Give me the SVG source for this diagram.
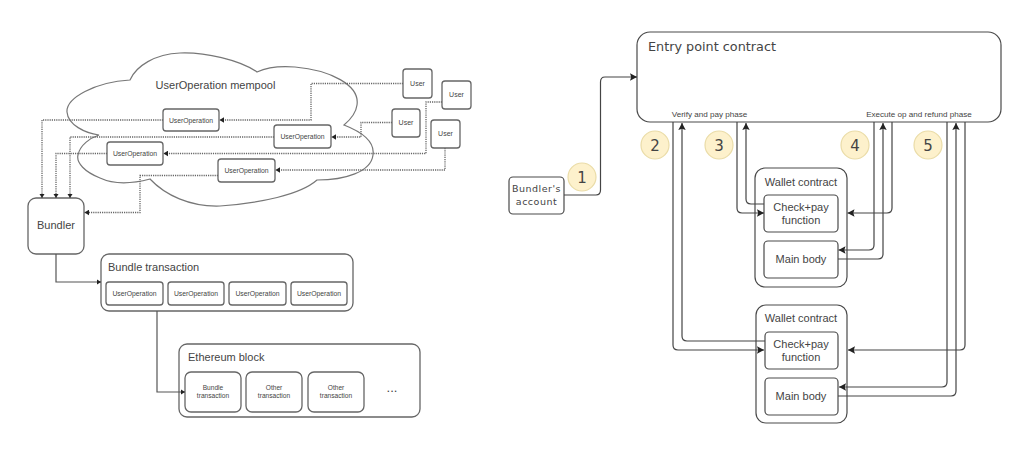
<svg xmlns="http://www.w3.org/2000/svg" width="1024" height="454" viewBox="0 0 1024 454">
<style>
text{font-family:"Liberation Sans",Arial,sans-serif;fill:#444;text-anchor:middle}
.box{fill:#fff;stroke:#666;stroke-width:1.3}
.dark{fill:#fff;stroke:#4a4a4a;stroke-width:1.2}
.frame{fill:none;stroke:#4a4a4a;stroke-width:1.2}
.cloud{fill:#fff;stroke:#777;stroke-width:1.2}
.dot{fill:none;stroke:#666;stroke-width:1.3;stroke-dasharray:1.2 1;marker-end:url(#sm)}
.line{fill:none;stroke:#555;stroke-width:1.2;marker-end:url(#sm)}
.arrow{fill:none;stroke:#444;stroke-width:1.2;marker-end:url(#lg)}
.badge{fill:#fdf1cc;stroke:#eadca8;stroke-width:1.2}
.uo{font-size:6.8px}
.tx{font-size:6.6px}
.usr{font-size:7px}
.h{font-size:11px;text-anchor:start}
.w{font-size:11px}
.ph{font-size:8.1px}
.dj{font-family:"DejaVu Sans",sans-serif}
.num{font-family:"DejaVu Sans",sans-serif;font-size:15px}
</style>
<defs>
<marker id="sm" markerUnits="userSpaceOnUse" markerWidth="5" markerHeight="6" refX="4.500" refY="3" orient="auto"><path d="M0 0.200L4.500 3L0 5.800Z" fill="#222"/></marker>
<marker id="lg" markerUnits="userSpaceOnUse" markerWidth="8" markerHeight="8" refX="7" refY="4" orient="auto"><path d="M0 0.300L7 4L0 7.700L1.200 4Z" fill="#222"/></marker>
</defs>

<g id="cloud"><path class="cloud" d="M130 80C136 66 155 54 180 53C205 52 240 60 257 72C270 66 283 66 295 67C330 70 360 85 357 105C356 113 350 120 344 125C362 132 375 142 373 155C371 172 345 180 317 180C300 195 260 203 220 206C190 207 165 195 150 179C135 183 115 185 100 178C85 172 76 163 78 155C80 145 90 138 99 135C85 133 68 125 67 112C66 98 95 82 130 80Z"/><text x="215.500" y="89" style="font-size:11px">UserOperation mempool</text></g>

<g id="op1"><rect class="box" x="163" y="109" width="56" height="22" rx="3"/><text class="uo" x="191" y="122.500">UserOperation</text></g>
<g id="op2"><rect class="box" x="107" y="142" width="56" height="23" rx="3"/><text class="uo" x="135" y="155.500">UserOperation</text></g>
<g id="op3"><rect class="box" x="218" y="159" width="57" height="23" rx="3"/><text class="uo" x="246.500" y="172.500">UserOperation</text></g>
<g id="op4"><rect class="box" x="274" y="125" width="57" height="23" rx="3"/><text class="uo" x="302.500" y="138.500">UserOperation</text></g>

<g id="user1"><rect class="box" x="403" y="69" width="29" height="29" rx="3"/><text class="usr" x="417.500" y="85.500">User</text></g>
<g id="user2"><rect class="box" x="442" y="81" width="29" height="28" rx="3"/><text class="usr" x="456.500" y="96.500">User</text></g>
<g id="user3"><rect class="box" x="392" y="109" width="28" height="28" rx="3"/><text class="usr" x="406" y="124.500">User</text></g>
<g id="user4"><rect class="box" x="431" y="120" width="29" height="28" rx="3"/><text class="usr" x="445.500" y="135.500">User</text></g>

<g id="bundler"><rect class="box" x="28" y="198" width="56" height="56" rx="8"/><text x="56" y="229" style="font-size:11px">Bundler</text></g>

<g id="bundle-tx"><rect class="box" x="101" y="254" width="252" height="57" rx="8"/><text class="h" x="108" y="271">Bundle transaction</text>
<rect class="box" x="106" y="282" width="57" height="23" rx="3"/><text class="uo" x="134.500" y="295.500">UserOperation</text>
<rect class="box" x="168" y="282" width="56" height="23" rx="3"/><text class="uo" x="196" y="295.500">UserOperation</text>
<rect class="box" x="229" y="282" width="57" height="23" rx="3"/><text class="uo" x="257.500" y="295.500">UserOperation</text>
<rect class="box" x="291" y="282" width="56" height="23" rx="3"/><text class="uo" x="319" y="295.500">UserOperation</text></g>

<g id="eth-block"><rect class="box" x="179" y="344" width="241" height="73" rx="8"/><text class="h" x="188" y="361">Ethereum block</text>
<rect class="box" x="185" y="372" width="56" height="40" rx="6"/><text class="tx" x="213" y="389.500">Bundle</text><text class="tx" x="213" y="397.500">transaction</text>
<rect class="box" x="246" y="372" width="56" height="40" rx="6"/><text class="tx" x="274" y="389.500">Other</text><text class="tx" x="274" y="397.500">transaction</text>
<rect class="box" x="308" y="372" width="56" height="40" rx="6"/><text class="tx" x="336" y="389.500">Other</text><text class="tx" x="336" y="397.500">transaction</text>
<text x="392" y="392" style="font-size:13px">...</text></g>

<g id="entry"><rect class="dark" x="637" y="32" width="364" height="90" rx="13"/><text class="dj" x="648" y="51" style="font-size:12.800px;text-anchor:start">Entry point contract</text><text class="ph" x="709.500" y="117">Verify and pay phase</text><text class="ph" x="919" y="117">Execute op and refund phase</text></g>

<g id="bundler-account"><rect class="dark" x="509" y="177" width="55" height="37" rx="4"/><text class="dj" x="536.500" y="192" style="font-size:9.500px;letter-spacing:.5px">Bundler's</text><text class="dj" x="536.500" y="205" style="font-size:9.500px;letter-spacing:.5px">account</text></g>

<g id="wallet1"><rect class="frame" x="755" y="168" width="92" height="119" rx="10"/><text class="w" x="801" y="186">Wallet contract</text>
<rect class="dark" x="764" y="195" width="74" height="37" rx="4"/><text class="w" x="801" y="211">Check+pay</text><text class="w" x="801" y="224">function</text>
<rect class="dark" x="764" y="241" width="74" height="37" rx="4"/><text class="w" x="801" y="263">Main body</text></g>

<g id="wallet2"><rect class="frame" x="756" y="305" width="91" height="118" rx="10"/><text class="w" x="801" y="322">Wallet contract</text>
<rect class="dark" x="765" y="332" width="73" height="37" rx="4"/><text class="w" x="801" y="348">Check+pay</text><text class="w" x="801" y="361">function</text>
<rect class="dark" x="765" y="378" width="73" height="37" rx="4"/><text class="w" x="801" y="400">Main body</text></g>

<g id="connectors">
<path class="dot" d="M403 83.500H311V120H219.500"/>
<path class="dot" d="M163 120H42V198"/>
<path class="dot" d="M392 122.500H361V137H331.500"/>
<path class="dot" d="M274 137H70V198"/>
<path class="dot" d="M442 102H426V153.500H163.500"/>
<path class="dot" d="M107 153.500H56V198"/>
<path class="dot" d="M445 148V170H275.500"/>
<path class="dot" d="M218 175.500H140V212.500H84.500"/>
<path class="line" d="M56 254V282H101"/>
<path class="line" d="M157 311V392H185"/>
<path class="arrow" d="M564 195H596Q600.500 195 600.500 190V82Q600.500 77 605 77H637"/>
<path class="arrow" d="M673 122V345Q673 350 678 350H764"/>
<path class="arrow" d="M765 341H687Q682 341 682 336V123"/>
<path class="arrow" d="M737 122V208Q737 213 742 213H764"/>
<path class="arrow" d="M764 204H751Q746 204 746 199V123"/>
<path class="arrow" d="M874 122V245Q874 250 869 250H838.500"/>
<path class="arrow" d="M838 259H878Q883 259 883 254V123"/>
<path class="arrow" d="M892 122V208Q892 213 887 213H847.500"/>
<path class="arrow" d="M947 122V382Q947 387 942 387H839"/>
<path class="arrow" d="M838 396H951Q956 396 956 391V123"/>
<path class="arrow" d="M965 122V345Q965 350 960 350H848"/>
</g>

<g id="badge1"><circle class="badge" cx="582" cy="177" r="14"/><text class="num" x="582" y="182.500">1</text></g>
<g id="badge2"><circle class="badge" cx="655" cy="145" r="14"/><text class="num" x="655" y="150.500">2</text></g>
<g id="badge3"><circle class="badge" cx="719" cy="145" r="14"/><text class="num" x="719" y="150.500">3</text></g>
<g id="badge4"><circle class="badge" cx="855" cy="145" r="14"/><text class="num" x="855" y="150.500">4</text></g>
<g id="badge5"><circle class="badge" cx="928" cy="145" r="14"/><text class="num" x="928" y="150.500">5</text></g>
</svg>
